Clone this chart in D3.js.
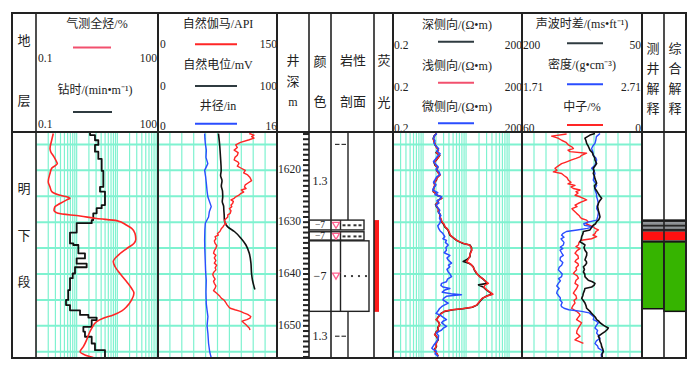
<!DOCTYPE html>
<html><head><meta charset="utf-8"><title>well log</title>
<script src="https://cdn.jsdelivr.net/npm/d3@7/dist/d3.min.js"></script>
<style>html,body{margin:0;padding:0;background:#fff}svg{display:block}</style></head>
<body><svg id="chart" width="700" height="380"></svg>
<script>
// ---------------- DATA ----------------
const depthDomain = [1612.8, 1656.2];
const depthLabels = [1620, 1630, 1640, 1650];
const gridDepths = [1615, 1620, 1625, 1630, 1635, 1640, 1645, 1650, 1655];
const stratChars = ["明", "下", "段"];
const stratDepths = [1623.5, 1632.5, 1641.5];

// [depth m, value]
const gasTotal = [[1612.9,0.266],[1614.2,0.243],[1615.8,0.221],[1616.4,0.23],[1617.4,0.277],[1618.4,0.323],[1618.7,0.335],[1619.6,0.243],[1620.6,0.221],[1622.2,0.2],[1623.2,0.221],[1624.1,0.243],[1624.8,0.389],[1625.1,0.569],[1625.4,0.686],[1625.7,0.569],[1626.4,0.389],[1627.0,0.293],[1627.7,0.277],[1628.3,0.35],[1628.8,1.21],[1629.3,3.1],[1629.7,9.6],[1630.6,17],[1631.2,22.5],[1632.2,27.2],[1633.3,28.5],[1634.1,25.5],[1635.1,17],[1636.35,10.6],[1637.6,7.95],[1638.6,8.8],[1639.9,11.6],[1641.5,17],[1642.8,22.5],[1643.7,25.6],[1645.0,22.5],[1646.3,17],[1647.1,12.9],[1647.9,7.95],[1648.55,4.5],[1649.2,3.1],[1650.5,2.34],[1651.8,1.94],[1652.7,1.76],[1654.0,1.46],[1655.0,1.21],[1655.6,1.6],[1656.1,2.56]];
// [top depth of step, min/m]
const drillTime = [[1612.8,2.13],[1613.2,2.82],[1614.2,3.41],[1615.1,2.82],[1616.4,3.41],[1617.8,4.12],[1620.1,4.52],[1623.2,3.75],[1624.1,4.97],[1626.7,4.12],[1627.3,3.10],[1628.3,2.56],[1629.6,2.34],[1630.2,1.0],[1632.0,0.686],[1634.1,0.827],[1634.4,1.10],[1636.0,1.60],[1637.0,1.0],[1638.0,1.76],[1638.7,0.91],[1639.9,0.80],[1640.8,0.686],[1643.1,0.62],[1645.0,0.547],[1646.0,0.686],[1647.0,1.21],[1647.9,1.94],[1648.4,3.1],[1648.9,2.34],[1650.2,1.46],[1651.1,1.6],[1652.1,2.34],[1653.4,2.82],[1654.7,4.97],[1656.2,4.97]];
const gammaRay = [[1612.9,115],[1613.2,121],[1613.5,118],[1613.8,121],[1614.1,115],[1614.6,104],[1615.1,98],[1615.6,100],[1616.1,96],[1616.6,101],[1617.1,100],[1617.5,97],[1618.0,96],[1618.4,101],[1618.7,102],[1619.2,100],[1619.6,105],[1620.0,110],[1620.5,108],[1620.9,113],[1621.4,116],[1622.0,118],[1622.5,113],[1622.8,110],[1623.2,109],[1623.5,111],[1623.8,105],[1624.2,108],[1624.5,104],[1624.8,102],[1625.1,98],[1625.4,96],[1625.7,92],[1626.0,95],[1626.4,94],[1626.7,92],[1627.0,93],[1627.4,90],[1627.8,92],[1628.3,91],[1628.6,88],[1629.0,88],[1629.3,86],[1629.6,84],[1630.0,84],[1630.3,86],[1630.6,83],[1630.9,82],[1631.2,80],[1631.5,79],[1631.8,78],[1632.2,75],[1632.5,76],[1632.8,72],[1633.2,73],[1633.6,71],[1634.1,72],[1634.5,74],[1635.0,73],[1635.5,71],[1636.0,70],[1636.4,73],[1636.9,71],[1637.4,73],[1637.9,71],[1638.3,74],[1638.8,72],[1639.2,73],[1639.7,70],[1640.1,69],[1640.5,70],[1641.0,72],[1641.4,70],[1641.8,71],[1642.3,73],[1642.7,72],[1643.2,70],[1643.7,74],[1644.0,76],[1644.3,78],[1644.7,80],[1645.0,83],[1645.4,85],[1645.9,87],[1646.3,89],[1646.6,91],[1646.9,97],[1647.2,104],[1647.5,108],[1647.8,113],[1648.2,117],[1648.5,116],[1648.8,112],[1649.1,106],[1649.4,108],[1649.8,111],[1650.1,113],[1650.4,115],[1650.8,116]];
const spontaneous = [[1612.9,50.8],[1614.8,51.7],[1617.4,52.5],[1620.0,53.1],[1621.0,52.6],[1622.0,53.8],[1623.0,53.2],[1624.0,54.2],[1625.1,54.4],[1626.0,54.0],[1627.0,55.2],[1627.6,55.3],[1628.5,55.6],[1629.6,55.8],[1630.2,56.4],[1630.9,58.6],[1631.8,64.2],[1633.1,69.7],[1634.4,73.9],[1636.0,76.7],[1637.9,78.1],[1639.9,78.6],[1641.2,79.4],[1642.5,80.8],[1643.0,81.4]];
const caliper = [[1612.9,6.27],[1613.8,6.3],[1614.8,6.36],[1616.1,6.5],[1617.5,6.45],[1618.7,6.7],[1620.0,6.27],[1621.2,6.4],[1622.5,6.5],[1624.0,6.6],[1625.1,6.7],[1627.0,7.16],[1628.0,6.9],[1629.0,6.8],[1630.2,6.36],[1631.5,6.3],[1633.5,6.27],[1635.5,6.3],[1637.9,6.36],[1639.5,6.4],[1641.2,6.49],[1643.5,6.45],[1645.7,6.49],[1647.0,6.6],[1648.2,6.71],[1650.0,6.6],[1651.5,6.71],[1653.4,6.8],[1655.0,6.95],[1656.2,7.16]];
const deepRes = [[1612.9,2.05],[1613.4,1.8],[1613.9,1.72],[1614.5,1.82],[1615.1,1.9],[1615.6,2.1],[1616.1,2.25],[1616.6,2.0],[1617.1,2.45],[1617.6,2.2],[1618.0,2.05],[1618.5,1.8],[1619.0,1.9],[1619.5,2.2],[1620.0,2.05],[1620.5,2.3],[1620.9,2.45],[1621.4,2.1],[1621.9,2.05],[1622.4,1.8],[1622.9,1.9],[1623.5,1.75],[1624.1,1.72],[1624.5,2.0],[1624.8,2.1],[1625.1,2.6],[1625.4,2.7],[1625.8,2.2],[1626.1,2.25],[1626.6,1.95],[1627.0,2.05],[1627.5,2.3],[1628.0,2.25],[1628.5,2.5],[1629.0,2.45],[1629.5,2.6],[1629.9,2.7],[1630.4,3.0],[1630.9,3.2],[1631.2,3.5],[1631.5,3.8],[1632.0,4.0],[1632.5,4.2],[1633.0,5.0],[1633.5,6.0],[1633.8,7.0],[1634.1,8.6],[1634.4,12.3],[1634.9,13.4],[1635.4,13.4],[1636.0,12.5],[1636.7,12.3],[1637.2,10.5],[1637.6,8.6],[1637.9,11.5],[1638.2,13.0],[1638.6,14.7],[1639.2,15.5],[1639.9,17.6],[1640.5,21],[1641.0,25],[1641.5,29],[1641.8,31],[1642.1,19.5],[1642.5,25],[1643.1,30],[1643.5,35],[1643.9,40],[1644.2,31],[1644.7,24],[1645.3,21],[1646.0,18],[1646.4,14],[1646.7,8.5],[1646.9,5],[1647.2,3.2],[1647.6,2.6],[1647.9,2.45],[1648.4,2.2],[1648.8,2.05],[1649.3,2.3],[1649.8,2.45],[1650.3,2.2],[1650.8,2.25],[1651.2,2.0],[1651.7,1.9],[1652.2,2.1],[1652.7,2.25],[1653.3,2.0],[1654.0,2.05],[1654.5,1.85],[1654.9,1.9],[1655.4,2.1],[1655.9,2.25]];
const shallowRes = [[1612.9,2.0],[1613.4,1.85],[1613.9,1.75],[1614.5,1.8],[1615.1,1.95],[1615.6,2.05],[1616.1,2.3],[1616.6,2.05],[1617.1,2.4],[1617.6,2.25],[1618.0,2.0],[1618.5,1.85],[1619.0,1.95],[1619.5,2.15],[1620.0,2.1],[1620.5,2.25],[1620.9,2.5],[1621.4,2.15],[1621.9,2.0],[1622.4,1.85],[1622.9,1.85],[1623.5,1.8],[1624.1,1.75],[1624.5,1.95],[1624.8,2.15],[1625.1,2.55],[1625.4,2.75],[1625.8,2.25],[1626.1,2.2],[1626.6,2.0],[1627.0,2.1],[1627.5,2.25],[1628.0,2.3],[1628.5,2.45],[1629.0,2.5],[1629.5,2.65],[1629.9,2.75],[1630.4,3.1],[1630.9,3.25],[1631.2,3.6],[1631.5,3.85],[1632.0,4.1],[1632.5,4.3],[1633.0,5.1],[1633.5,6.1],[1633.8,7.2],[1634.1,8.8],[1634.4,12.0],[1634.9,13.2],[1635.4,13.6],[1636.0,12.7],[1636.7,12.0],[1637.2,11.2],[1637.6,10.3],[1637.9,11.8],[1638.2,13.3],[1638.6,14.5],[1639.2,15.8],[1639.9,17.9],[1640.5,20.5],[1641.0,25.5],[1641.5,29.5],[1641.8,33],[1642.1,28],[1642.5,26],[1643.1,31],[1643.5,36],[1643.9,42],[1644.2,32],[1644.7,23.5],[1645.3,20.5],[1646.0,17.5],[1646.4,13.5],[1646.7,8.0],[1646.9,4.8],[1647.2,3.1],[1647.6,2.7],[1647.9,2.4],[1648.4,2.25],[1648.8,2.0],[1649.3,2.35],[1649.8,2.4],[1650.3,2.25],[1650.8,2.2],[1651.2,2.05],[1651.7,1.85],[1652.2,2.15],[1652.7,2.2],[1653.3,2.05],[1654.0,2.0],[1654.5,1.9],[1654.9,1.85],[1655.4,2.15],[1655.9,2.2]];
const microRes = [[1612.9,2.1],[1613.3,1.85],[1613.8,1.75],[1614.3,1.9],[1614.8,1.8],[1615.3,2.0],[1615.8,2.3],[1616.3,2.1],[1616.8,2.5],[1617.3,2.15],[1617.8,1.95],[1618.3,1.75],[1618.8,1.95],[1619.3,2.25],[1619.8,2.0],[1620.3,2.35],[1620.8,2.5],[1621.3,2.05],[1621.8,1.9],[1622.3,1.75],[1622.8,2.0],[1623.3,1.8],[1623.8,1.68],[1624.3,2.2],[1624.7,1.9],[1625.1,2.7],[1625.5,2.5],[1625.9,2.1],[1626.3,2.35],[1626.7,2.0],[1627.2,2.2],[1627.7,2.45],[1628.2,2.3],[1628.7,2.6],[1629.2,2.4],[1629.7,2.55],[1630.2,2.45],[1630.7,2.2],[1631.2,2.3],[1631.7,2.5],[1632.2,2.9],[1632.8,3.2],[1633.2,2.9],[1633.5,3.5],[1633.9,3.3],[1634.4,3.85],[1634.9,3.4],[1635.4,3.5],[1635.9,3.1],[1636.4,4.2],[1636.9,3.6],[1637.3,3.85],[1637.9,4.6],[1638.3,3.9],[1638.6,4.2],[1639.1,3.6],[1639.6,3.85],[1640.1,4.3],[1640.5,4.6],[1641.0,3.7],[1641.5,3.5],[1641.8,2.7],[1642.2,2.6],[1642.5,2.9],[1642.8,4.2],[1643.1,3.2],[1643.5,2.8],[1643.8,4.5],[1644.0,7.8],[1644.15,5.0],[1644.3,3.5],[1644.7,3.0],[1645.0,2.9],[1645.3,3.3],[1645.6,3.85],[1646.0,3.1],[1646.3,2.7],[1646.7,2.4],[1647.2,2.2],[1647.6,2.0],[1647.9,2.45],[1648.3,2.9],[1648.8,3.5],[1649.1,2.9],[1649.4,2.7],[1649.8,3.1],[1650.1,3.5],[1650.5,2.9],[1650.8,2.7],[1651.1,2.3],[1651.4,2.05],[1651.9,2.3],[1652.4,2.25],[1652.9,2.1],[1653.4,1.9],[1653.8,1.75],[1654.3,1.6],[1654.6,1.75],[1654.9,2.05],[1655.4,1.9],[1655.9,2.25]];
const sonic = [[1612.9,108.8],[1613.2,115],[1613.8,121.3],[1614.3,120],[1614.8,119.2],[1615.4,117],[1616.1,115],[1616.6,112],[1617.1,110.9],[1617.6,109],[1618.0,108.8],[1618.7,106.7],[1619.2,109],[1619.6,110.9],[1620.1,110],[1620.6,110.9],[1621.1,109.5],[1621.6,108.8],[1622.1,107.5],[1622.5,106.7],[1623.0,109.5],[1623.5,108.8],[1624.0,106.5],[1624.5,104.6],[1625.0,102.5],[1625.4,100.4],[1625.9,103],[1626.4,104.6],[1627.0,105.5],[1627.7,104.6],[1628.3,103.5],[1629.0,102.5],[1629.5,104],[1629.9,106.7],[1630.3,108],[1630.6,110.9],[1631.0,113],[1631.5,115],[1631.8,123.3],[1632.3,124],[1632.8,125.4],[1633.3,126],[1633.8,127.5],[1634.1,124],[1634.4,121.3],[1634.9,122.5],[1635.4,121.3],[1635.9,119],[1636.4,119.2],[1636.9,120.5],[1637.3,121.3],[1637.6,119.5],[1637.9,119.2],[1638.3,121],[1638.6,123.3],[1639.1,122],[1639.6,123.3],[1640.0,121.5],[1640.5,121.3],[1640.9,119],[1641.2,117.1],[1641.5,112],[1641.8,108.8],[1642.2,110],[1642.5,112.9],[1642.8,121.3],[1643.2,122],[1643.7,123.3],[1644.2,124],[1644.7,125.4],[1645.2,123],[1645.6,121.3],[1646.1,120],[1646.6,119.2],[1647.2,115],[1647.6,113],[1647.9,110.9],[1648.4,108],[1648.8,106.7],[1649.1,104],[1649.4,102.5],[1649.9,98],[1650.4,92.1],[1650.8,94],[1651.1,96.3],[1651.5,100],[1652.0,104.6],[1652.5,103],[1653.0,102.5],[1653.5,101],[1654.0,100.4],[1654.5,99],[1654.9,98.3],[1655.5,100],[1656.2,99.6]];
const density = [[1612.9,2.36],[1613.5,2.33],[1614.2,2.325],[1614.8,2.318],[1615.3,2.30],[1615.8,2.29],[1616.4,2.30],[1617.1,2.304],[1617.6,2.325],[1618.0,2.332],[1618.5,2.325],[1619.0,2.318],[1619.6,2.29],[1620.1,2.31],[1620.6,2.318],[1621.2,2.31],[1621.9,2.304],[1622.4,2.32],[1622.9,2.332],[1623.4,2.32],[1623.8,2.318],[1624.5,2.33],[1625.1,2.332],[1625.7,2.34],[1626.4,2.346],[1626.9,2.335],[1627.4,2.332],[1627.9,2.345],[1628.3,2.346],[1629.0,2.34],[1629.6,2.332],[1630.0,2.26],[1630.3,2.225],[1630.6,2.23],[1630.9,2.30],[1631.2,2.255],[1631.5,2.17],[1631.8,2.08],[1632.2,2.05],[1632.5,2.04],[1632.9,2.06],[1633.2,2.035],[1633.5,2.045],[1633.9,2.06],[1634.4,2.054],[1634.8,2.03],[1635.1,2.05],[1635.4,2.027],[1635.9,2.04],[1636.4,2.054],[1636.8,2.03],[1637.3,2.027],[1637.8,2.05],[1638.3,2.04],[1638.7,2.02],[1639.2,2.013],[1639.6,2.03],[1640.0,2.045],[1640.5,2.04],[1640.9,2.015],[1641.3,2.03],[1641.8,2.013],[1642.3,2.0],[1642.8,2.02],[1643.2,2.005],[1643.7,1.999],[1644.2,2.015],[1644.6,2.03],[1645.0,2.027],[1645.5,2.045],[1646.0,2.035],[1646.3,2.04],[1646.6,2.06],[1646.9,2.10],[1647.2,2.207],[1647.5,2.27],[1647.9,2.29],[1648.3,2.31],[1648.8,2.304],[1649.1,2.33],[1649.4,2.346],[1649.9,2.33],[1650.4,2.318],[1650.9,2.34],[1651.4,2.332],[1651.9,2.35],[1652.4,2.36],[1652.9,2.33],[1653.4,2.318],[1653.9,2.34],[1654.3,2.346],[1654.9,2.388],[1655.5,2.37],[1656.2,2.374]];
const neutron = [[1613.0,37.7],[1613.4,45.2],[1613.8,42],[1614.2,40.2],[1614.6,38],[1615.1,36.8],[1615.5,35],[1615.8,34.3],[1616.1,37],[1616.4,36],[1616.7,27.7],[1617.1,30.2],[1617.4,31],[1617.7,33],[1618.0,35.2],[1618.4,38],[1618.7,40.2],[1619.2,42],[1619.6,43.5],[1620.0,42.5],[1620.3,44.3],[1620.6,40.2],[1621.0,39],[1621.4,37.5],[1621.9,36.8],[1622.3,35.5],[1622.6,37],[1622.9,33.5],[1623.2,35.5],[1623.5,34.3],[1623.8,31],[1624.1,33],[1624.4,32],[1624.8,33.5],[1625.1,31],[1625.4,29.3],[1625.7,27.7],[1626.1,30.2],[1626.4,32],[1626.7,33.5],[1627.0,32.5],[1627.4,35],[1627.7,34.3],[1628.0,33.5],[1628.3,32.7],[1628.7,31.5],[1629.0,31],[1629.3,30.2],[1629.6,27.7],[1629.9,27],[1630.3,28],[1630.6,26],[1630.9,24.3],[1631.2,23.5],[1631.5,21.8],[1631.8,23],[1632.2,23.5],[1632.5,24.5],[1632.8,22.7],[1633.2,25.2],[1633.5,30.2],[1633.9,31.5],[1634.4,31.8],[1634.7,33],[1635.1,31],[1635.5,32.5],[1636.0,33.5],[1636.5,32],[1637.0,31.8],[1637.3,33],[1637.6,33.5],[1638.0,32],[1638.3,31.8],[1638.8,33],[1639.2,32.7],[1639.5,33.5],[1639.9,34.3],[1640.3,32.5],[1640.8,31.8],[1641.2,33],[1641.8,33.5],[1642.2,32],[1642.8,32.7],[1643.2,33.5],[1643.7,34.3],[1644.2,33],[1644.7,32.7],[1645.1,34],[1645.6,33.5],[1646.1,34.5],[1646.6,35.2],[1646.9,34],[1647.2,32.7],[1647.6,31.5],[1647.9,31],[1648.4,32],[1648.8,32.7],[1649.1,31.5],[1649.4,30.2],[1649.9,31],[1650.4,31.8],[1650.9,32.5],[1651.4,32.7],[1651.7,31.8],[1652.0,31],[1652.4,32.5],[1652.7,33.5],[1653.1,31],[1653.4,29.3]];

// lithology layers: top, bottom, colour code, lithology type, label depths
const lithLayers = [
  {top:1612.8, bottom:1629.6, code:"1.3", type:"mud", codeAt:1622.0, symAt:1615.0},
  {top:1629.6, bottom:1631.5, code:"−7", type:"oilsand", codeAt:1630.6, symAt:1630.6},
  {top:1631.85, bottom:1633.45, code:"−7", type:"oilsand", codeAt:1632.75, symAt:1632.75},
  {top:1633.6, bottom:1647.2, code:"−7", type:"sand", codeAt:1640.4, symAt:1640.4},
  {top:1647.2, bottom:1656.2, code:"1.3", type:"mud", codeAt:1652.0, symAt:1652.0}
];
const fluorescence = [[1629.6, 1647.3]];
// interpretation bands: top, bottom, class
const logInterp = [[1629.6,1630.05,"dark"],[1630.05,1630.45,"gray"],[1630.45,1630.9,"dark"],[1630.9,1631.25,"gray"],[1631.25,1631.85,"dark"],[1631.85,1633.5,"oil"],[1633.5,1633.8,"dark"],[1633.8,1646.7,"water"]];
const compInterp = [[1629.6,1630.05,"dark"],[1630.05,1630.45,"gray"],[1630.45,1630.9,"dark"],[1630.9,1631.25,"gray"],[1631.25,1631.85,"dark"],[1631.85,1633.5,"oil"],[1633.5,1633.8,"dark"],[1633.8,1647.2,"water"]];

// ---------------- LAYOUT ----------------
const svg = d3.select('#chart');
const TOP = 13, HB = 132, BOT = 358;
const C = {strat:[12,36], t1:[36,158], t2:[158,277], dep:[277,309], col:[309,331], lith:[331,374], flu:[374,393], t4:[393,522], t5:[522,642], i1:[642,664], i2:[664,686]};
const y = d3.scaleLinear().domain(depthDomain).range([133, BOT]);
const GRID = '#7ff2d0';
const FONT = "'Liberation Serif','Noto Sans CJK SC',serif";
const NUM = "'Liberation Serif',serif";
const COL = {red:'#ff2626', pink:'#f2506e', black:'#111', blue:'#2a4dff', dark:'#2f3b40'};
const interpColor = {dark:'#262626', gray:'#8c9196', oil:'#ff1010', water:'#36b400'};

function txt(x, yy, s, o = {}) {
  return svg.append('text').attr('x', x).attr('y', yy)
    .attr('text-anchor', o.a || 'middle').attr('dominant-baseline', 'central')
    .attr('font-family', o.f || FONT).attr('font-size', o.s || 12)
    .attr('fill', o.c || '#222').text(s);
}
function hline(x1, x2, yy, c, w) {
  svg.append('line').attr('x1', x1).attr('x2', x2).attr('y1', yy).attr('y2', yy).attr('stroke', c).attr('stroke-width', w);
}
function vline(x, y1, y2, c, w) {
  svg.append('line').attr('x1', x).attr('x2', x).attr('y1', y1).attr('y2', y2).attr('stroke', c).attr('stroke-width', w);
}

// scales
const sGas = d3.scaleLog().domain([0.1, 100]).range(C.t1);
const sDrill = d3.scaleLog().domain([0.1, 100]).range(C.t1);
const sGR = d3.scaleLinear().domain([0, 150]).range(C.t2);
const sSP = d3.scaleLinear().domain([0, 100]).range(C.t2);
const sCAL = d3.scaleLinear().domain([0, 16]).range(C.t2);
const sRes = d3.scaleLog().domain([0.2, 200]).range(C.t4);
const sAC = d3.scaleLinear().domain([200, 50]).range(C.t5);
const sDEN = d3.scaleLinear().domain([1.71, 2.71]).range(C.t5);
const sCNL = d3.scaleLinear().domain([60, 0]).range(C.t5);

// clip paths
const defs = svg.append('defs');
['t1','t2','t4','t5'].forEach(k => {
  defs.append('clipPath').attr('id', 'clip-' + k).append('rect')
    .attr('x', C[k][0]).attr('y', HB).attr('width', C[k][1] - C[k][0]).attr('height', BOT - HB);
});

// grids
function grid(k, xs) {
  const g = svg.append('g').attr('clip-path', `url(#clip-${k})`);
  xs.forEach(x => g.append('line').attr('x1', x).attr('x2', x).attr('y1', HB).attr('y2', BOT).attr('stroke', GRID).attr('stroke-width', 1.2));
  gridDepths.forEach(d => g.append('line').attr('x1', C[k][0]).attr('x2', C[k][1]).attr('y1', y(d)).attr('y2', y(d)).attr('stroke', GRID).attr('stroke-width', 2));
}
grid('t1', sGas.ticks().map(sGas));
grid('t2', d3.range(0, 101, 10).map(sSP));
grid('t4', sRes.ticks().map(sRes));
grid('t5', d3.range(0, 61, 6).map(sCNL));

// curves
function curve(k, data, sx, color, w, cv) {
  const line = d3.line().x(d => sx(d[1])).y(d => y(d[0])).curve(cv || d3.curveLinear);
  svg.append('path').datum(data).attr('clip-path', `url(#clip-${k})`)
    .attr('d', line).attr('fill', 'none').attr('stroke', color).attr('stroke-width', w)
    .attr('stroke-linejoin', 'round');
}
curve('t1', drillTime, sDrill, COL.black, 1.8, d3.curveStepBefore);
curve('t1', gasTotal, sGas, COL.red, 1.6, d3.curveMonotoneY);
curve('t2', caliper, sCAL, COL.blue, 1.4);
curve('t2', spontaneous, sSP, COL.black, 1.6, d3.curveMonotoneY);
curve('t2', gammaRay, sGR, COL.red, 1.4);
curve('t4', deepRes, sRes, COL.black, 1.6);
curve('t4', shallowRes, sRes, COL.red, 1.5);
curve('t4', microRes, sRes, COL.blue, 1.5);
curve('t5', neutron, sCNL, COL.red, 1.4);
curve('t5', density, sDEN, COL.blue, 1.4);
curve('t5', sonic, sAC, COL.black, 1.6);

// depth ticks + labels
d3.range(1613, 1657).forEach(d => {
  if (y(d) > BOT - 1) return;
  hline(C.dep[1] - 6, C.dep[1], y(d), '#222', 2);
});
depthLabels.forEach(d => txt(C.dep[1] - 8, y(d) - 1, d, {a:'end', f:NUM, s:11.5}));

// lithology column
lithLayers.forEach(L => {
  const y0 = y(L.top), y1 = y(L.bottom);
  const thin = L.type === 'oilsand';
  if (L.type === 'mud') {
    vline(348, y0, y1, '#222', 1.4);
    const ys = y(L.symAt);
    hline(335, 339.5, ys, '#333', 1.2);
    hline(341.5, 346, ys, '#333', 1.2);
  } else {
    const right = L.type === 'sand' ? 369 : 364;
    svg.append('rect').attr('x', C.col[0]).attr('y', y0).attr('width', right - C.col[0]).attr('height', y1 - y0)
      .attr('fill', 'none').attr('stroke', '#222').attr('stroke-width', 1.4);
    vline(340.5, y0, y1, '#222', 1.4);
    const ys = y(L.symAt);
    const tri = d3.path();
    tri.moveTo(332.5, ys - 3); tri.lineTo(339.5, ys - 3); tri.lineTo(336, ys + 3); tri.closePath();
    svg.append('path').attr('d', tri.toString()).attr('fill', '#fff').attr('stroke', '#ff5f8f').attr('stroke-width', 1.3);
    if (L.type === 'sand') {
      [345, 352, 359, 366].forEach(x => svg.append('circle').attr('cx', x).attr('cy', ys).attr('r', 1.1).attr('fill', '#222'));
    } else {
      [344, 349, 355, 360].forEach(x => svg.append('rect').attr('x', x - 1.5).attr('y', ys - 1).attr('width', 3).attr('height', 2).attr('fill', '#333'));
    }
  }
  txt(320, y(L.codeAt), L.code, {f:NUM, s: thin ? 9.5 : 12});
});

// fluorescence
fluorescence.forEach(f => svg.append('rect').attr('x', 374).attr('y', y(f[0])).attr('width', 5).attr('height', y(f[1]) - y(f[0])).attr('fill', '#ff1a1a'));

// interpretation columns
function interp(k, data) {
  data.forEach(b => svg.append('rect').attr('x', C[k][0]).attr('y', y(b[0])).attr('width', C[k][1] - C[k][0])
    .attr('height', y(b[1]) - y(b[0])).attr('fill', interpColor[b[2]]));
  const last = data[data.length - 1];
  svg.append('rect').attr('x', C[k][0]).attr('y', y(last[0])).attr('width', C[k][1] - C[k][0])
    .attr('height', y(last[1]) - y(last[0])).attr('fill', 'none').attr('stroke', '#111').attr('stroke-width', 1.5);
  hline(C[k][0], C[k][1], y(data[0][0]), '#111', 1.5);
}
interp('i1', logInterp);
interp('i2', compInterp);

// strat column text
stratChars.forEach((c, i) => txt(24, y(stratDepths[i]), c, {s:13}));

// ---------------- FRAME ----------------
svg.append('rect').attr('x', 12).attr('y', TOP).attr('width', 674).attr('height', BOT - TOP)
  .attr('fill', 'none').attr('stroke', '#222').attr('stroke-width', 2);
hline(12, 686, HB, '#222', 2);
[36, 158, 277, 309, 331, 374, 393, 522, 642, 664].forEach(x => vline(x, TOP, BOT, '#222', (x === 158 || x === 277 || x === 393 || x === 522 || x === 642) ? 2 : 1.6));

// ---------------- HEADER ----------------
txt(24, 40, '地', {s:13}); txt(24, 100, '层', {s:13});
// track 1
txt(97, 24, '气测全烃/%');
hline(73, 111, 47.5, COL.pink, 2);
txt(38, 58, '0.1', {a:'start', f:NUM, s:11.5}); txt(157, 58, '100', {a:'end', f:NUM, s:11.5});
txt(95, 90, '钻时/(min•m⁻¹)');
hline(73, 112, 112, COL.dark, 2);
txt(38, 124, '0.1', {a:'start', f:NUM, s:11.5}); txt(157, 124, '100', {a:'end', f:NUM, s:11.5});
// track 2
txt(218, 24, '自然伽马/API');
hline(195, 237, 44.3, COL.red, 2);
txt(160, 44, '0', {a:'start', f:NUM, s:11.5}); txt(277, 44, '150', {a:'end', f:NUM, s:11.5});
txt(218, 65, '自然电位/mV');
hline(195, 237, 86, COL.dark, 2);
txt(160, 86, '0', {a:'start', f:NUM, s:11.5}); txt(277, 86, '100', {a:'end', f:NUM, s:11.5});
txt(218, 106, '井径/in');
hline(195, 237, 123.7, COL.blue, 2);
txt(160, 126, '0', {a:'start', f:NUM, s:11.5}); txt(277, 126, '16', {a:'end', f:NUM, s:11.5});
// depth / lithology headers
txt(293, 60, '井', {s:13}); txt(293, 81, '深', {s:13}); txt(293, 102, 'm', {f:NUM, s:12});
txt(320, 61, '颜', {s:13}); txt(320, 101, '色', {s:13});
txt(353, 60, '岩性', {s:13}); txt(353, 101, '剖面', {s:13});
txt(384, 60, '荧', {s:13}); txt(384, 102, '光', {s:13});
// track 4
txt(457, 25, '深侧向/(Ω•m)');
hline(438, 474, 41.7, COL.dark, 2);
txt(394, 45, '0.2', {a:'start', f:NUM, s:11.5}); txt(522, 45, '200', {a:'end', f:NUM, s:11.5});
txt(457, 66, '浅侧向/(Ω•m)');
hline(438, 474, 82.7, COL.pink, 2);
txt(394, 87, '0.2', {a:'start', f:NUM, s:11.5}); txt(522, 87, '200', {a:'end', f:NUM, s:11.5});
txt(457, 107, '微侧向/(Ω•m)');
hline(438, 474, 123.3, COL.blue, 2);
txt(394, 128, '0.2', {a:'start', f:NUM, s:11.5}); txt(522, 128, '200', {a:'end', f:NUM, s:11.5});
// track 5
txt(582, 24, '声波时差/(ms•ft⁻¹)');
hline(567, 603, 43.3, COL.dark, 2);
txt(523, 45, '200', {a:'start', f:NUM, s:11.5}); txt(641, 45, '50', {a:'end', f:NUM, s:11.5});
txt(582, 65, '密度/(g•cm⁻³)');
hline(567, 603, 84.3, COL.blue, 2);
txt(523, 87, '1.71', {a:'start', f:NUM, s:11.5}); txt(641, 87, '2.71', {a:'end', f:NUM, s:11.5});
txt(582, 107, '中子/%');
hline(567, 603, 125, COL.red, 2);
txt(523, 128, '60', {a:'start', f:NUM, s:11.5}); txt(641, 128, '0', {a:'end', f:NUM, s:11.5});
// interpretation headers
['测','井','解','释'].forEach((c, i) => txt(653, 48 + i * 20, c, {s:13}));
['综','合','解','释'].forEach((c, i) => txt(675, 48 + i * 20, c, {s:13}));
</script>
</body></html>
